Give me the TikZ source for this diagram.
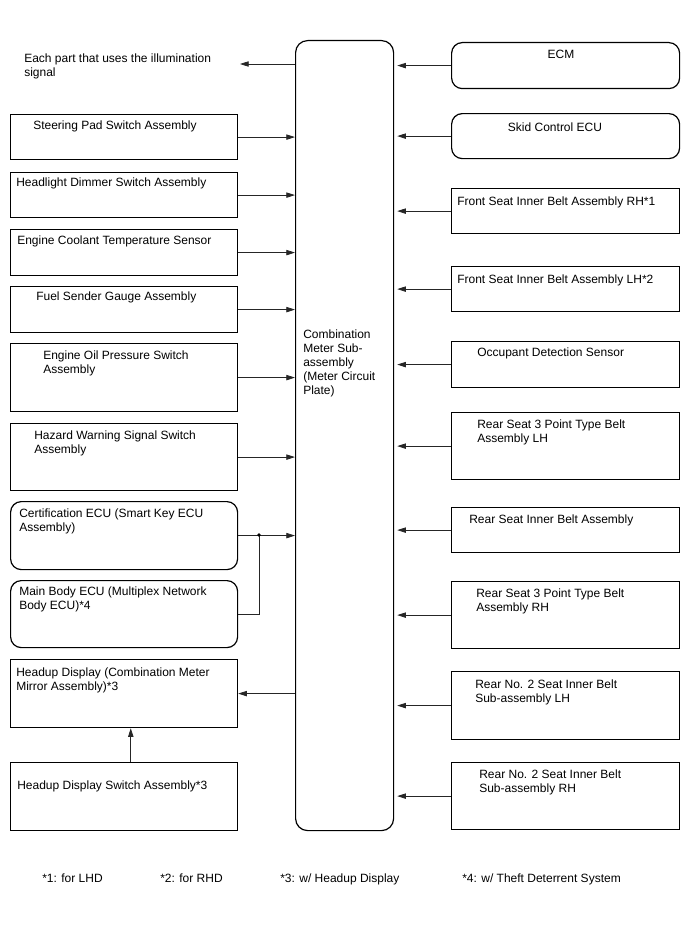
\documentclass[tikz,border=0pt]{standalone}
\usepackage{fontspec}
\setmainfont{Liberation Sans}
\usepackage{tikz}
\usetikzlibrary{positioning,arrows.meta}
\newlength{\pxu}
\setlength{\pxu}{0.75pt}

\begin{document}
\begin{tikzpicture}[x=0.75pt,y=-0.75pt,font=\fontsize{9pt}{10.5pt}\selectfont,
  blk/.style={draw,line width=0.9pt,rectangle,anchor=north west,inner sep=0pt},
  rblk/.style={blk,rounded corners=8pt},
  lbox/.style={minimum width=227\pxu},
  rbox/.style={minimum width=228\pxu},
  txt/.style={anchor=north west,inner sep=0pt,align=left},
  sig/.style={-{Triangle[length=6.5pt,width=4pt]},line width=0.6pt,black!85},
  wire/.style={line width=0.6pt,black!85}]
\useasboundingbox (0,0) rectangle (688,949);
% ---- Combination meter (centre) ----
\node[rblk,rounded corners=9pt,minimum width=98\pxu,minimum height=790\pxu] (cmb) at (295,40) {};
\node[txt] (cmbT) at (303,330) {Combination\\Meter Sub-\\assembly\\(Meter Circuit\\Plate)};
% ---- left column ----
\node[txt] (illum) at (24,54) {Each part that uses the illumination\\signal};
\coordinate (illumEnd) at (240,64);
\node[blk,lbox,minimum height=45\pxu] (steer) at (10,114) {};
\node[txt] (steerT) at (33,121) {Steering Pad Switch Assembly};
\node[blk,lbox,minimum height=45\pxu] (dimmer) at (10,172) {};
\node[txt] (dimmerT) at (16,178) {Headlight Dimmer Switch Assembly};
\node[blk,lbox,minimum height=46\pxu] (coolant) at (10,229) {};
\node[txt] (coolantT) at (17,236) {Engine Coolant Temperature Sensor};
\node[blk,lbox,minimum height=46\pxu] (fuel) at (10,286) {};
\node[txt] (fuelT) at (36,292) {Fuel Sender Gauge Assembly};
\node[blk,lbox,minimum height=68\pxu] (oilp) at (10,343) {};
\node[txt] (oilpT) at (43,351) {Engine Oil Pressure Switch\\Assembly};
\node[blk,lbox,minimum height=67\pxu] (hazard) at (10,423) {};
\node[txt] (hazardT) at (34,431) {Hazard Warning Signal Switch\\Assembly};
\node[rblk,lbox,minimum height=68\pxu] (cert) at (10,501) {};
\node[txt] (certT) at (19,509) {Certification ECU (Smart Key ECU\\Assembly)};
\node[rblk,lbox,minimum height=67\pxu] (mainb) at (10,580) {};
\node[txt] (mainbT) at (19,587) {Main Body ECU (Multiplex Network\\Body ECU)*4};
\node[blk,lbox,minimum height=68\pxu] (hud) at (10,659) {};
\node[txt] (hudT) at (16,668) {Headup Display (Combination Meter\\Mirror Assembly)*3};
\node[blk,lbox,minimum height=68\pxu] (hudsw) at (10,762) {};
\node[txt] (hudswT) at (17,781) {Headup Display Switch Assembly*3};
% ---- right column ----
\node[rblk,rbox,minimum height=46\pxu] (ecm) at (451,42) {};
\node[anchor=base,inner sep=0pt] (ecmT) at (561,59) {ECM};
\node[rblk,rbox,minimum height=45\pxu] (skid) at (451,113) {};
\node[anchor=base,inner sep=0pt] (skidT) at (555,132) {Skid Control ECU};
\node[blk,rbox,minimum height=45\pxu] (frh) at (451,188) {};
\node[txt] (frhT) at (457,197) {Front Seat Inner Belt Assembly RH*1};
\node[blk,rbox,minimum height=45\pxu] (flh) at (451,266) {};
\node[txt] (flhT) at (457,275) {Front Seat Inner Belt Assembly LH*2};
\node[blk,rbox,minimum height=46\pxu] (occ) at (451,341) {};
\node[txt] (occT) at (477,348) {Occupant Detection Sensor};
\node[blk,rbox,minimum height=67\pxu] (rslh) at (451,412) {};
\node[txt] (rslhT) at (477,420) {Rear Seat 3 Point Type Belt\\Assembly LH};
\node[blk,rbox,minimum height=45\pxu] (rsin) at (451,507) {};
\node[txt] (rsinT) at (469,515) {Rear Seat Inner Belt Assembly};
\node[blk,rbox,minimum height=67\pxu] (rsrh) at (451,581) {};
\node[txt] (rsrhT) at (476,589) {Rear Seat 3 Point Type Belt\\Assembly RH};
\node[blk,rbox,minimum height=68\pxu] (rtlh) at (451,671) {};
\node[txt] (rtlhT) at (475,680) {Rear No. 2 Seat Inner Belt\\Sub-assembly LH};
\node[blk,rbox,minimum height=67\pxu] (rtrh) at (451,762) {};
\node[txt] (rtrhT) at (479,770) {Rear No. 2 Seat Inner Belt\\Sub-assembly RH};
% ---- connectors ----
\draw[sig] (cmb.west |- illumEnd) -- (illumEnd);
\foreach \n in {steer,dimmer,coolant,fuel,oilp,hazard,cert}
  \draw[sig] (\n.east) -- (\n.east -| cmb.west);
\coordinate (jn) at (259,535);
\draw[wire] (mainb.east) -| (jn);
\fill (jn) circle (1.4pt);
\draw[sig] (hud.east -| cmb.west) -- (hud.east);
\draw[sig] ([xshift=5pt]hudsw.north) -- ([xshift=5pt]hud.south);
\foreach \n in {ecm,skid,frh,flh,occ,rslh,rsin,rsrh,rtlh,rtrh}
  \draw[sig,shorten >=3\pxu] (\n.west) -- (\n.west -| cmb.east);
% ---- notes ----
\node[anchor=base west,inner sep=0pt] (nt1) at (42,882) {*1: for LHD};
\node[anchor=base west,inner sep=0pt] (nt2) at (160,882) {*2: for RHD};
\node[anchor=base west,inner sep=0pt] (nt3) at (280,882) {*3: w/ Headup Display};
\node[anchor=base west,inner sep=0pt] (nt4) at (462,882) {*4: w/ Theft Deterrent System};
\end{tikzpicture}
\end{document}
